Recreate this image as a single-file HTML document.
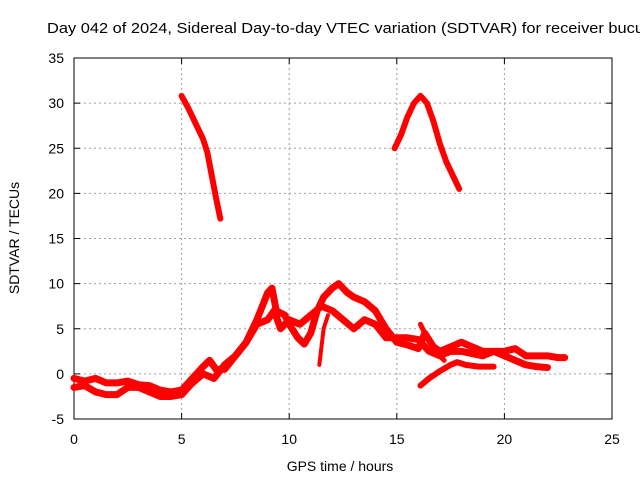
<!DOCTYPE html>
<html><head><meta charset="utf-8"><style>
body{margin:0;background:#fff;}
svg{display:block;font-family:"Liberation Sans",sans-serif;}
</style></head><body>
<svg id="chart" width="640" height="480">
<text x="47" y="33" font-size="14.5" textLength="597" lengthAdjust="spacingAndGlyphs" fill="#000">Day 042 of 2024, Sidereal Day-to-day VTEC variation (SDTVAR) for receiver bucu</text>
<rect x="74" y="58" width="538" height="361" fill="none" stroke="#000" stroke-width="1"/>
<g id="grid"></g>
<g id="ticks"></g>
<g id="series"></g>
<text x="340" y="471" font-size="14" text-anchor="middle">GPS time / hours</text>
<text transform="translate(19,238) rotate(-90)" font-size="14" text-anchor="middle">SDTVAR / TECUs</text>
</svg>
<script>
const xTicks=[0,5,10,15,20,25];
const yTicks=[-5,0,5,10,15,20,25,30,35];
const upperT=[0,0.5,1,1.5,2,2.5,3,3.5,4,4.5,5,5.5,6,6.3,6.6,7,7.5,8,8.5,9,9.2,9.4,9.8,10,10.4,10.7,11,11.3,11.6,12,12.3,12.7,13,13.5,14,14.5,15,15.5,16,16.3,16.7,17,17.5,18,18.5,19,19.5,20,20.5,21,21.5,22,22.5,22.8];
const upperV=[-0.5,-0.8,-0.5,-1,-1,-0.8,-1.2,-1.3,-1.8,-2,-1.8,-0.5,0.8,1.5,0.5,0.5,2,3.5,6,9,9.5,7,6.5,5.5,4,3.3,4.5,7,8.5,9.5,10,9,8.5,8,7,5,3.5,3.2,2.8,4.5,3,2.5,3,3.5,3,2.5,2.5,2.5,2.8,2,2,2,1.8,1.8];
const lowerT=[0,0.5,1,1.5,2,2.5,3,3.5,4,4.5,5,5.5,6,6.5,7,7.5,8,8.5,9,9.3,9.6,10,10.5,11,11.5,12,12.5,13,13.5,14,14.5,15,15.5,16,16.5,17,17.5,18,19,19.5,20,20.5,21,21.5,22];
const lowerV=[-1.5,-1.3,-2,-2.3,-2.3,-1.5,-1.5,-2,-2.5,-2.5,-2.3,-1,0,-0.5,1,2,3.5,5.5,6,7,5,6,5.5,6.5,7.5,7,6,5,6,5.5,4,4,4,3.8,2.5,2,2.5,2.5,2,2.5,2,1.5,1,0.8,0.7];
const tailT=[16.1,16.5,17,17.5,17.8,18.2,18.8,19.5];
const tailV=[-1.3,-0.5,0.3,1,1.3,1,0.8,0.8];
const spikeT=[11.4,11.6,11.8];
const spikeV=[1,5,6.5];
const branchT=[16.1,16.4,16.8,17.2];
const branchV=[5.5,4,2.5,1.5];
const eveT=[5.0,5.3,5.7,6.0,6.2,6.4,6.6,6.8];
const eveV=[30.8,29.5,27.5,26,24.5,22,19.5,17.2];
const peakT=[14.9,15.2,15.5,15.8,16.1,16.4,16.7,17.0,17.3,17.7,17.9];
const peakV=[25,26.5,28.5,30,30.8,30,28,25.5,23.5,21.5,20.5];

const X=t=>74+t*538/25, Y=v=>419-(v+5)*361/40;
const NS="http://www.w3.org/2000/svg";
function mk(tag,attrs,parent){const e=document.createElementNS(NS,tag);for(const k in attrs)e.setAttribute(k,attrs[k]);parent.appendChild(e);return e;}
const grid=document.getElementById('grid'),ticks=document.getElementById('ticks'),ser=document.getElementById('series');
xTicks.forEach(t=>{
  if(t>0&&t<25){const g=mk('line',{x1:X(t),x2:X(t),y1:58,y2:419,stroke:'#a0a0a0','stroke-dasharray':'2,3'},grid);
  
  }
  mk('line',{x1:X(t),x2:X(t),y1:419,y2:413,stroke:'#000'},ticks);
  mk('line',{x1:X(t),x2:X(t),y1:58,y2:64,stroke:'#000'},ticks);
  const l=mk('text',{x:X(t),y:444,'font-size':14,'text-anchor':'middle'},ticks);l.textContent=t;
  
  
});
yTicks.forEach(v=>{
  if(v>-5&&v<35){const g=mk('line',{x1:74,x2:612,y1:Y(v),y2:Y(v),stroke:'#a0a0a0','stroke-dasharray':'2,3'},grid);
  
  }
  mk('line',{x1:74,x2:80,y1:Y(v),y2:Y(v),stroke:'#000'},ticks);
  mk('line',{x1:612,x2:606,y1:Y(v),y2:Y(v),stroke:'#000'},ticks);
  const l=mk('text',{x:64,y:Y(v)+5,'font-size':14,'text-anchor':'end'},ticks);l.textContent=v;
  
  
});
function draw(ts,vs,w,name){
  const p=mk('polyline',{points:ts.map((t,i)=>X(t)+','+Y(vs[i])).join(' '),fill:'none',stroke:'#ff0000','stroke-width':w,'stroke-linejoin':'round','stroke-linecap':'round'},ser);
  
  
}
draw(upperT,upperV,7,'series-upper-band');
draw(lowerT,lowerV,7,'series-lower-band');
draw(tailT,tailV,6,'series-late-tail');
draw(spikeT,spikeV,4,'series-spike');
draw(branchT,branchV,5,'series-branch');
draw(eveT,eveV,6,'series-early-high');
draw(peakT,peakV,6,'series-late-high');
</script>
</body></html>
